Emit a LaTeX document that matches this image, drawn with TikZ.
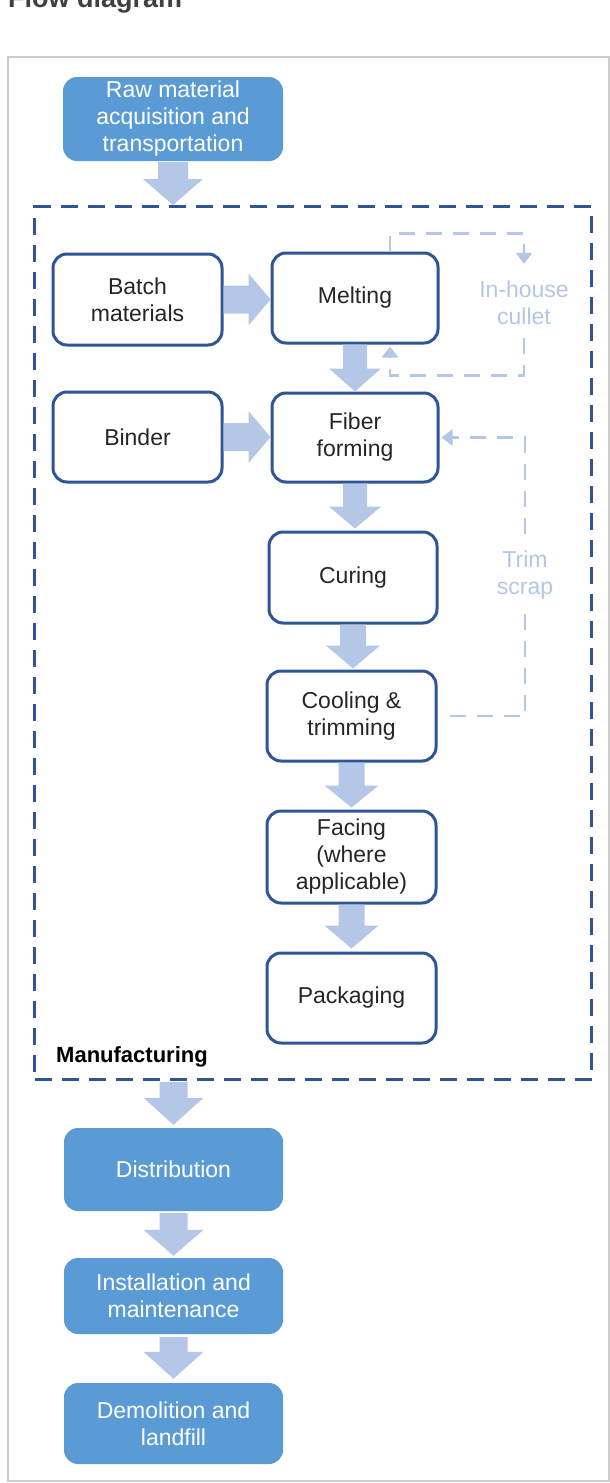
\documentclass[tikz,border=0pt]{standalone}
\usepackage{fontspec}
\setmainfont{Liberation Sans}
\usetikzlibrary{calc,arrows.meta}
\definecolor{bluef}{HTML}{5B9BD5}
\definecolor{bord}{HTML}{2F5597}
\definecolor{arrc}{HTML}{B4C7E7}
\definecolor{txt}{HTML}{262626}
\definecolor{framec}{HTML}{CCCCCC}
\definecolor{titlec}{HTML}{404040}
\newcommand\boxfont{\fontsize{23}{27}\selectfont}
% vertical block arrow: #1 start, #2 tip, #3 half shaft, #4 half head, #5 head length
\newcommand\vblk[5]{%
  \fill[arrc] let \p1=(#1), \p2=(#2) in
    (\x1-#3pt,\y1) -- (\x1+#3pt,\y1) -- (\x1+#3pt,\y2+#5pt) -- (\x1+#4pt,\y2+#5pt)
    -- (\x1,\y2) -- (\x1-#4pt,\y2+#5pt) -- (\x1-#3pt,\y2+#5pt) -- cycle;}
% horizontal block arrow
\newcommand\hblk[5]{%
  \fill[arrc] let \p1=(#1), \p2=(#2) in
    (\x1,\y1-#3pt) -- (\x2-#5pt,\y1-#3pt) -- (\x2-#5pt,\y1-#4pt) -- (\x2,\y1)
    -- (\x2-#5pt,\y1+#4pt) -- (\x2-#5pt,\y1+#3pt) -- (\x1,\y1+#3pt) -- cycle;}
\tikzset{
  wbox/.style={draw=bord, line width=3pt, rounded corners=14pt, fill=white,
    align=center, font=\boxfont, text=txt, inner sep=0pt},
  bbox/.style={fill=bluef, rounded corners=14pt, text=white, align=center,
    font=\boxfont, inner sep=0pt},
  loopline/.style={draw=arrc, line width=2.8pt, dash pattern=on 16pt off 11pt},
  looptip/.style={-{Triangle[width=16pt,length=11pt]}},
  looplabel/.style={text=arrc, align=center, font=\boxfont, inner sep=0pt},
  mfgframe/.style={draw=bord, line width=3.2pt, dash pattern=on 17pt off 10pt, inner sep=0pt}
}
\begin{document}
\begin{tikzpicture}[x=1pt,y=-1pt]
\useasboundingbox (0,0) rectangle (610,1483);
\fill[white] (0,0) rectangle (610,1483);
\node[anchor=base west, font=\fontsize{27}{30}\selectfont\bfseries, text=titlec, inner sep=0pt] (title) at (8,7) {Flow diagram};
\draw[framec, line width=2pt] (8,57) rectangle (608.5,1481);

% manufacturing frame
\node[mfgframe, minimum width=557pt, minimum height=873pt, anchor=north west] (mfg) at (33,205) {};
\node[anchor=base west, font=\fontsize{22}{26}\selectfont\bfseries, text=black, inner sep=0pt] (mlabel) at (56,1062) {Manufacturing};

% outer boxes
\node[bbox, minimum width=220pt, minimum height=84pt] (raw) at (173,119) {Raw material\\acquisition and\\transportation};
\node[bbox, minimum width=219pt, minimum height=83pt] (dist) at (173.5,1169.5) {Distribution};
\node[bbox, minimum width=219pt, minimum height=76pt] (inst) at (173.5,1296) {Installation and\\maintenance};
\node[bbox, minimum width=219pt, minimum height=81pt] (demo) at (173.5,1423.5) {Demolition and\\landfill};

% manufacturing boxes
\node[wbox, minimum width=169pt, minimum height=91pt] (batch) at (137.5,299.5) {Batch\\materials};
\node[wbox, minimum width=169pt, minimum height=90pt] (binder) at (137.5,437) {Binder};
\node[wbox, minimum width=166pt, minimum height=90pt] (melt) at (355,298) {Melting};
\node[wbox, minimum width=166pt, minimum height=89pt] (fiber) at (355,437.5) {Fiber\\forming};
\node[wbox, minimum width=168pt, minimum height=91pt] (curing) at (353,577.5) {Curing};
\node[wbox, minimum width=169pt, minimum height=90pt] (cool) at (351.5,716) {Cooling \&\\trimming};
\node[wbox, minimum width=169pt, minimum height=92pt] (facing) at (351.5,857) {Facing\\(where\\applicable)};
\node[wbox, minimum width=169pt, minimum height=90pt] (pack) at (351.5,998) {Packaging};

% loop labels
\node[looplabel] (cullet) at (524,303) {In-house\\cullet};
\node[looplabel] (trim) at (525,575) {Trim\\scrap};

% block arrows
\vblk{$(raw.south)+(0,1)$}{raw.south |- mfg.north}{15}{30}{26}
\hblk{batch.east}{melt.west}{14}{26}{22}
\hblk{binder.east}{fiber.west}{14}{26}{22}
\vblk{melt.south}{fiber.north}{12}{26}{23}
\vblk{fiber.south}{$(curing.north)+(0,-2)$}{12}{26}{22}
\vblk{curing.south}{$(cool.north)+(0,-1)$}{13}{27}{23}
\vblk{cool.south}{$(facing.north)+(0,-2)$}{13}{27}{22}
\vblk{facing.south}{$(pack.north)+(0,-3)$}{13}{27}{23}
\vblk{$(dist.north |- mfg.south)+(0,1)$}{$(dist.north)+(0,-3)$}{14}{30}{27}
\vblk{$(dist.south)+(0,2)$}{$(inst.north)+(0,-2)$}{14}{30}{26}
\vblk{$(inst.south)+(0,3)$}{$(demo.north)+(0,-4)$}{14}{30}{27}

% feedback loops
\draw[loopline, looptip] ($(melt.north)+(35,0)$) -- ++(0,-18) -| ($(cullet.north)+(0,-17)$);
\draw[loopline, looptip] ($(cullet.south)+(0,13)$) |- ($(melt.south)+(35,31)$) -- ($(melt.south)+(35,2)$);
\draw[loopline] ($(cool.east)+(12,0)$) -| ($(trim.south)+(0,15)$);
\draw[loopline, looptip] ($(trim.north)+(0,-17)$) |- ($(fiber.east)+(2,0)$);
\end{tikzpicture}
\end{document}
